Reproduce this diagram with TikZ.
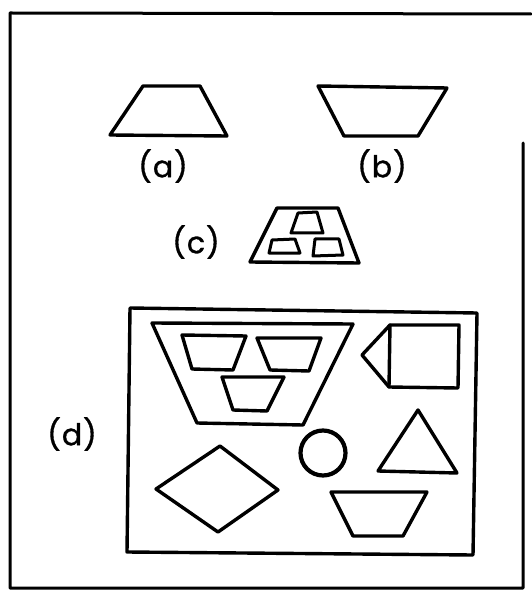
\documentclass[tikz,border=0pt]{standalone}
\usepackage{fontspec}
\setmainfont{Poppins}
\newfontfamily\lblfont{Poppins}[FakeBold=1.2]
\begin{document}
\begin{tikzpicture}[x=1pt,y=-1pt,line join=round,line cap=round,
  shp/.style={draw=black,line width=3.4pt},
  lbl/.style={font=\fontsize{30}{34}\lblfont,inner sep=0pt}]
\useasboundingbox (0,0) rectangle (531,593);
% outer frame
\draw[line width=3pt] (523,143) -- (523,588) -- (10,588) -- (10,13) -- (531,14);
% (a)
\draw[shp] (143,86) -- (200,86) -- (227,136) -- (110,135) -- cycle;
\node[lbl] (la) at (163,166) {(\kern1pt a\kern1pt)};
% (b)
\draw[shp] (318,86) -- (447,88) -- (418,136) -- (344,136) -- cycle;
\node[lbl] (lb) at (382,166) {(\kern1pt b\kern1pt)};
% (c)
\node[lbl] (lc) at (196,242) {(\kern1pt c\kern1pt)};
\draw[shp] (277,208) -- (338,208) -- (359,263) -- (250,262) -- cycle;
\draw[shp,line width=3pt] (298,213) -- (317,212) -- (323,233) -- (291,233) -- cycle;
\draw[shp,line width=3pt] (272,240) -- (295,239) -- (300,253) -- (269,253) -- cycle;
\draw[shp,line width=3pt] (315,239) -- (339,239) -- (343,255) -- (313,256) -- cycle;
% (d)
\node[lbl] (ld) at (72,434) {(\kern1pt d\kern1pt)};
\draw[shp] (130,308) -- (477,313) -- (473,555) -- (127,552) -- cycle;
\draw[shp] (152,323) -- (353,324) -- (303,425) -- (197,423) -- cycle;
\draw[shp] (182,335) -- (246,336) -- (233,370) -- (192,369) -- cycle;
\draw[shp] (257,338) -- (321,338) -- (309,371) -- (270,370) -- cycle;
\draw[shp] (222,377) -- (284,377) -- (267,411) -- (233,410) -- cycle;
\draw[shp] (362,355) -- (390,325) -- (459,325) -- (458,388) -- (389,387) -- cycle;
\draw[shp] (390,325) -- (389,387);
\draw[shp,line width=4.2pt] (323,453) circle (22.5);
\draw[shp] (418,410) -- (457,473) -- (378,471) -- cycle;
\draw[shp] (156,489) -- (220,446) -- (278,490) -- (218,532) -- cycle;
\draw[shp] (331,492) -- (427,492) -- (403,536) -- (353,536) -- cycle;
\end{tikzpicture}
\end{document}
